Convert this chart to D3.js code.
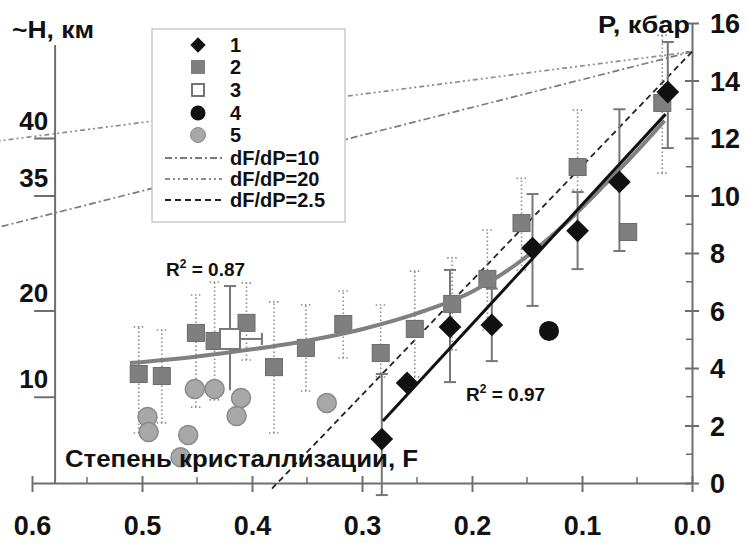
<!DOCTYPE html>
<html>
<head>
<meta charset="utf-8">
<script src="https://cdn.jsdelivr.net/npm/d3@7"></script>
<style>
  body { margin: 0; background: #fff; }
  svg { display: block; font-family: "Liberation Sans", Arial, sans-serif; font-weight: bold; }
</style>
</head>
<body>
<svg id="chart" width="749" height="543"></svg>
<script>
// axis ticks
var fTicks = [0.6, 0.5, 0.4, 0.3, 0.2, 0.1, 0.0];
var fMinor = [0.55, 0.45, 0.35, 0.25, 0.15, 0.05];
var pTicks = [0, 2, 4, 6, 8, 10, 12, 14, 16];
var pMinor = [1, 3, 5, 7, 9, 11, 13, 15];
var hLabels = ["40", "35", "20", "10"];
var hAtP = [12, 10, 6, 3];

// series 1 (diamonds) with solid error bars
var s1F = [0.282, 0.259, 0.22, 0.182, 0.145, 0.104, 0.066, 0.022];
var s1P = [1.53, 3.48, 5.43, 5.5, 8.17, 8.77, 10.47, 13.6];
var s1Lo = [-0.42, null, 3.51, 4.24, 6.16, 7.44, 8.07, 11.65];
var s1Hi = [3.79, null, 7.41, 6.76, 10.05, 10.12, 13.0, 15.34];

// series 2 (grey squares) with dotted error bars
var s2F = [0.503, 0.482, 0.451, 0.434, 0.405, 0.38, 0.351, 0.317, 0.283, 0.252, 0.218, 0.186, 0.155, 0.104, 0.058, 0.027];
var s2P = [3.79, 3.72, 5.22, 4.94, 5.57, 4.03, 4.7, 5.53, 4.52, 5.36, 6.23, 7.1, 9.04, 10.99, 8.73, 13.22];
var s2Lo = [1.74, 2.09, 2.64, 2.89, 4.28, 1.74, 3.2, 4.35, 3.69, 3.69, 4.63, 5.32, 7.41, 10.19, null, 10.78];
var s2Hi = [5.43, 5.32, 6.54, 6.99, 6.96, 6.3, 6.2, 6.68, 6.19, 7.37, 7.83, 8.8, 10.6, 12.97, null, 15.58];

// series 3 (open square)
var s3F = [0.42], s3P = [5.01], s3Lo = [3.23], s3Hi = [6.85], s3Fr = [0.391];
// series 4 (black circle)
var s4F = [0.13], s4P = [5.29];
// series 5 (grey circles)
var s5F = [0.495, 0.494, 0.452, 0.434, 0.41, 0.414, 0.458, 0.465, 0.332];
var s5P = [2.3, 1.77, 3.27, 3.27, 2.96, 2.33, 1.67, 0.9, 2.78];

// trend for series 2 (R2=0.87)
var fitGreyF = [0.511, 0.45, 0.40, 0.35, 0.30, 0.25, 0.20, 0.16, 0.12, 0.08, 0.045, 0.025];
var fitGreyP = [4.17, 4.4, 4.65, 4.95, 5.35, 5.9, 6.65, 7.6, 8.85, 10.35, 11.75, 12.6];
// trend for series 1 (R2=0.97)
var fitBlackF = [0.281, 0.024];
var fitBlackP = [2.16, 12.83];

// dF/dP reference lines
var refNames = ["dF/dP=10", "dF/dP=20", "dF/dP=2.5"];
var refF = [[0, 0.63], [0, 0.63], [0, 0.382]];
var refP = [[15, 8.9], [15, 11.9], [15, -0.2]];
var refDash = ["7,3,2,3", "5,3,2,3,2,3", "6,4"];
var refColor = ["#7a7a7a", "#8c8c8c", "#222"];

var svg = d3.select("#chart");
var x = d3.scaleLinear().domain([0.6, 0]).range([32, 692]);
var y = d3.scaleLinear().domain([0, 16]).range([483, 23]);
var axisColor = "#6e6e6e";

function styleAxis(g) {
  g.select(".domain").attr("stroke", axisColor).attr("stroke-width", 2);
  g.selectAll(".tick line").attr("stroke", axisColor).attr("stroke-width", 2);
  g.selectAll("text").attr("fill", "#111").attr("font-family", "Liberation Sans, Arial, sans-serif").attr("font-weight", "bold");
}

// bottom axis
var gx = svg.append("g")
  .attr("transform", "translate(0," + y(0) + ")")
  .call(d3.axisBottom(x).tickValues(fTicks).tickFormat(d3.format(".1f")).tickSize(9).tickSizeOuter(0));
styleAxis(gx);
gx.selectAll(".tick line").attr("y1", -7);
gx.selectAll("text").attr("font-size", 27).attr("dy", null).attr("y", 52);
svg.append("g").selectAll("line").data(fMinor).enter().append("line")
  .attr("x1", function (d) { return x(d); }).attr("x2", function (d) { return x(d); })
  .attr("y1", y(0) - 6).attr("y2", y(0))
  .attr("stroke", axisColor).attr("stroke-width", 1.5);

// right axis (pressure)
var gy = svg.append("g")
  .attr("transform", "translate(" + x(0) + ",0)")
  .call(d3.axisRight(y).tickValues(pTicks).tickSize(7).tickSizeOuter(0));
styleAxis(gy);
gy.selectAll(".tick line").attr("x1", -7);
gy.selectAll("text").attr("font-size", 27).attr("x", 18).attr("dy", "0.36em");
svg.append("g").selectAll("line").data(pMinor).enter().append("line")
  .attr("x1", x(0) - 6).attr("x2", x(0))
  .attr("y1", function (d) { return y(d); }).attr("y2", function (d) { return y(d); })
  .attr("stroke", axisColor).attr("stroke-width", 1.5);

// left axis (depth, placed at matching pressure)
var leftF = 0.579;
var gh = svg.append("g")
  .attr("transform", "translate(" + x(leftF) + ",0)")
  .call(d3.axisLeft(y).tickValues(hAtP).tickFormat(function (d, i) { return hLabels[i]; }).tickSize(21).tickSizeOuter(0));
styleAxis(gh);
gh.select(".domain").remove();
gh.selectAll("text").attr("font-size", 26).attr("x", -7).attr("y", -9).attr("dy", null);
svg.append("line")
  .attr("x1", x(leftF)).attr("x2", x(leftF)).attr("y1", 45).attr("y2", y(0))
  .attr("stroke", axisColor).attr("stroke-width", 2);

// reference lines dF/dP
var line = d3.line().x(function (d) { return x(d[0]); }).y(function (d) { return y(d[1]); });
refNames.forEach(function (n, i) {
  svg.append("path")
    .datum(d3.zip(refF[i], refP[i]))
    .attr("d", line)
    .attr("fill", "none")
    .attr("stroke", refColor[i])
    .attr("stroke-width", i === 2 ? 1.8 : 1.7)
    .attr("stroke-dasharray", refDash[i]);
});

// dotted error bars of series 2
var eb2 = svg.append("g").attr("stroke", "#8e8e8e").attr("stroke-width", 1.6).attr("stroke-dasharray", "1.5,2.5");
s2F.forEach(function (f, i) {
  if (s2Lo[i] === null) return;
  eb2.append("line").attr("x1", x(f)).attr("x2", x(f)).attr("y1", y(s2Lo[i])).attr("y2", y(s2Hi[i]));
  [s2Lo[i], s2Hi[i]].forEach(function (v) {
    eb2.append("line").attr("x1", x(f) - 5).attr("x2", x(f) + 5).attr("y1", y(v)).attr("y2", y(v));
  });
});

// solid error bars of series 1 and 3
var eb1 = svg.append("g").attr("stroke", "#777").attr("stroke-width", 2);
s1F.forEach(function (f, i) {
  if (s1Lo[i] === null) return;
  eb1.append("line").attr("x1", x(f)).attr("x2", x(f)).attr("y1", y(s1Lo[i])).attr("y2", y(s1Hi[i]));
  [s1Lo[i], s1Hi[i]].forEach(function (v) {
    eb1.append("line").attr("x1", x(f) - 6).attr("x2", x(f) + 6).attr("y1", y(v)).attr("y2", y(v));
  });
});
eb1.append("line").attr("x1", x(s3F[0])).attr("x2", x(s3F[0])).attr("y1", y(s3Lo[0])).attr("y2", y(s3Hi[0]));
eb1.append("line").attr("x1", x(s3F[0]) - 6).attr("x2", x(s3F[0]) + 6).attr("y1", y(s3Hi[0])).attr("y2", y(s3Hi[0]));
eb1.append("line").attr("x1", x(s3F[0])).attr("x2", x(s3Fr[0])).attr("y1", y(s3P[0])).attr("y2", y(s3P[0]));
eb1.append("line").attr("x1", x(s3Fr[0])).attr("x2", x(s3Fr[0])).attr("y1", y(s3P[0]) - 6).attr("y2", y(s3P[0]) + 6);

// series 5 grey circles
svg.append("g").selectAll("circle").data(d3.zip(s5F, s5P)).enter().append("circle")
  .attr("cx", function (d) { return x(d[0]); }).attr("cy", function (d) { return y(d[1]); })
  .attr("r", 9.5).attr("fill", "#a8a8a8").attr("stroke", "#8a8a8a").attr("stroke-width", 1.5);

// series 2 squares
var sq = 17;
svg.append("g").selectAll("rect").data(d3.zip(s2F, s2P)).enter().append("rect")
  .attr("x", function (d) { return x(d[0]) - sq / 2; }).attr("y", function (d) { return y(d[1]) - sq / 2; })
  .attr("width", sq).attr("height", sq)
  .attr("fill", "#7f7f7f").attr("stroke", "#6a6a6a").attr("stroke-width", 1);

// trend lines
svg.append("path")
  .datum(d3.zip(fitGreyF, fitGreyP))
  .attr("d", line.curve(d3.curveMonotoneX))
  .attr("fill", "none").attr("stroke", "#808080").attr("stroke-width", 4);
line.curve(d3.curveLinear);
svg.append("path")
  .datum(d3.zip(fitBlackF, fitBlackP))
  .attr("d", line)
  .attr("fill", "none").attr("stroke", "#111").attr("stroke-width", 3);

// series 1 diamonds
var diamond = d3.symbol().type(d3.symbolDiamond2).size(330);
svg.append("g").selectAll("path").data(d3.zip(s1F, s1P)).enter().append("path")
  .attr("d", diamond)
  .attr("transform", function (d) { return "translate(" + x(d[0]) + "," + y(d[1]) + ")"; })
  .attr("fill", "#111");

// series 3 open square
svg.append("rect")
  .attr("x", x(s3F[0]) - 10).attr("y", y(s3P[0]) - 10).attr("width", 20).attr("height", 20)
  .attr("fill", "#fff").attr("stroke", "#777").attr("stroke-width", 2);

// series 4 black circle
svg.append("circle").attr("cx", x(s4F[0])).attr("cy", y(s4P[0])).attr("r", 10).attr("fill", "#111");

// axis titles
function title(tx, ty, size, len, txt) {
  svg.append("text").attr("x", tx).attr("y", ty).attr("font-size", size)
    .attr("textLength", len).attr("lengthAdjust", "spacingAndGlyphs")
    .attr("fill", "#111").text(txt);
}
title(12, 38, 23, 82, "~H, км");
title(598, 33, 23, 92, "P, кбар");
title(65, 467, 23, 353, "Степень кристаллизации, F");

// R2 labels
function r2(tx, ty, val) {
  var t = svg.append("text").attr("x", tx).attr("y", ty).attr("font-size", 19).attr("fill", "#111");
  t.append("tspan").text("R");
  t.append("tspan").attr("font-size", 12).attr("dy", -8).text("2");
  t.append("tspan").attr("dy", 8).text(" = " + val);
}
r2(166, 276, "0.87");
r2(466, 401, "0.97");

// legend
var lg = svg.append("g");
lg.append("rect").attr("x", 152).attr("y", 29).attr("width", 193).attr("height", 193)
  .attr("fill", "#fff").attr("stroke", "#bdbdbd").attr("stroke-width", 1.2);
var legendNames = ["1", "2", "3", "4", "5"];
var rowY = [45, 67, 90, 113, 135, 158, 179, 200];
var mx = 198;
lg.append("path").attr("d", d3.symbol().type(d3.symbolDiamond2).size(150)).attr("transform", "translate(" + mx + "," + rowY[0] + ")").attr("fill", "#111");
lg.append("rect").attr("x", mx - 7).attr("y", rowY[1] - 7).attr("width", 14).attr("height", 14).attr("fill", "#7f7f7f");
lg.append("rect").attr("x", mx - 6).attr("y", rowY[2] - 6).attr("width", 12).attr("height", 12).attr("fill", "#fff").attr("stroke", "#666").attr("stroke-width", 1.8);
lg.append("circle").attr("cx", mx).attr("cy", rowY[3]).attr("r", 7.5).attr("fill", "#111");
lg.append("circle").attr("cx", mx).attr("cy", rowY[4]).attr("r", 7.5).attr("fill", "#a8a8a8").attr("stroke", "#8a8a8a");
legendNames.forEach(function (n, i) {
  lg.append("text").attr("x", 230).attr("y", rowY[i] + 7).attr("font-size", 20).attr("fill", "#111").text(n);
});
refNames.forEach(function (n, i) {
  var ry = rowY[5 + i];
  lg.append("line").attr("x1", 165).attr("x2", 222).attr("y1", ry).attr("y2", ry)
    .attr("stroke", refColor[i]).attr("stroke-width", 1.8).attr("stroke-dasharray", refDash[i]);
  lg.append("text").attr("x", 230).attr("y", ry + 7).attr("font-size", 20).attr("fill", "#111").text(n);
});
</script>
</body>
</html>
